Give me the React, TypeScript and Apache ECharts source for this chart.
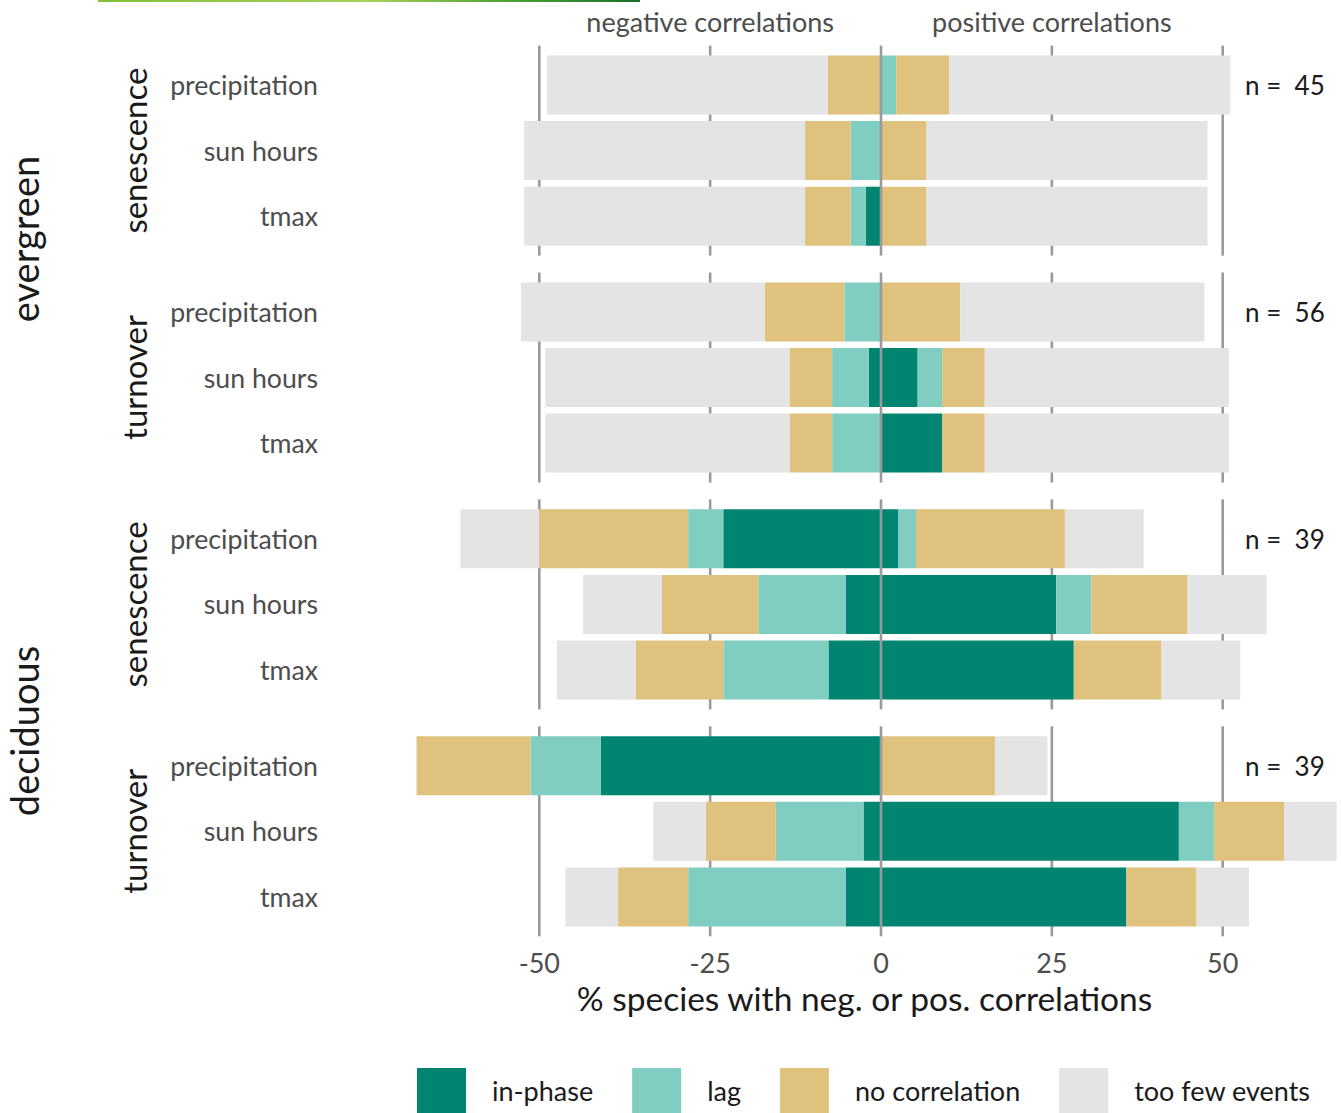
import React, { useEffect, useRef } from 'react';
import * as echarts from 'echarts';

// ---------- data ----------
const CATEGORIES = ['precipitation', 'sun hours', 'tmax'];
const LEGEND_NAMES = ['in-phase', 'lag', 'no correlation', 'too few events'];
const X_TICKS = [-50, -25, 0, 25, 50];
const GROUP_LABELS = ['evergreen', 'deciduous'];
const PHASE_LABELS = ['senescence', 'turnover', 'senescence', 'turnover'];
const N_SPECIES = [45, 56, 39, 39];
const SIDE_LABELS: Record<number, string> = { [-25]: 'negative correlations', 25: 'positive correlations' };

// % species, rows = [precipitation, sun hours, tmax]
// evergreen – senescence
const EVS_INPHASE_NEG = [0, 0, 2.22];
const EVS_LAG_NEG = [0, 4.44, 2.22];
const EVS_NOCORR_NEG = [7.78, 6.67, 6.67];
const EVS_FEW_NEG = [41.11, 41.11, 41.11];
const EVS_INPHASE_POS = [0, 0, 0];
const EVS_LAG_POS = [2.22, 0, 0];
const EVS_NOCORR_POS = [7.78, 6.67, 6.67];
const EVS_FEW_POS = [41.11, 41.11, 41.11];
// evergreen – turnover
const EVT_INPHASE_NEG = [0, 1.79, 0];
const EVT_LAG_NEG = [5.36, 5.36, 7.14];
const EVT_NOCORR_NEG = [11.61, 6.25, 6.25];
const EVT_FEW_NEG = [35.71, 35.71, 35.71];
const EVT_INPHASE_POS = [0, 5.36, 8.93];
const EVT_LAG_POS = [0, 3.57, 0];
const EVT_NOCORR_POS = [11.61, 6.25, 6.25];
const EVT_FEW_POS = [35.71, 35.71, 35.71];
// deciduous – senescence
const DES_INPHASE_NEG = [23.08, 5.13, 7.69];
const DES_LAG_NEG = [5.13, 12.82, 15.38];
const DES_NOCORR_NEG = [21.79, 14.1, 12.82];
const DES_FEW_NEG = [11.54, 11.54, 11.54];
const DES_INPHASE_POS = [2.56, 25.64, 28.21];
const DES_LAG_POS = [2.56, 5.13, 0];
const DES_NOCORR_POS = [21.79, 14.1, 12.82];
const DES_FEW_POS = [11.54, 11.54, 11.54];
// deciduous – turnover (left "too few events" of precipitation falls outside the axis limits and is not drawn)
const DET_INPHASE_NEG = [41.03, 2.56, 5.13];
const DET_LAG_NEG = [10.26, 12.82, 23.08];
const DET_NOCORR_NEG = [16.67, 10.26, 10.26];
const DET_FEW_NEG = [0, 7.69, 7.69];
const DET_INPHASE_POS = [0, 43.59, 35.9];
const DET_LAG_POS = [0, 5.13, 0];
const DET_NOCORR_POS = [16.67, 10.26, 10.26];
const DET_FEW_POS = [7.69, 7.69, 7.69];

const PANELS = [
  { pos: [EVS_INPHASE_POS, EVS_LAG_POS, EVS_NOCORR_POS, EVS_FEW_POS], neg: [EVS_INPHASE_NEG, EVS_LAG_NEG, EVS_NOCORR_NEG, EVS_FEW_NEG] },
  { pos: [EVT_INPHASE_POS, EVT_LAG_POS, EVT_NOCORR_POS, EVT_FEW_POS], neg: [EVT_INPHASE_NEG, EVT_LAG_NEG, EVT_NOCORR_NEG, EVT_FEW_NEG] },
  { pos: [DES_INPHASE_POS, DES_LAG_POS, DES_NOCORR_POS, DES_FEW_POS], neg: [DES_INPHASE_NEG, DES_LAG_NEG, DES_NOCORR_NEG, DES_FEW_NEG] },
  { pos: [DET_INPHASE_POS, DET_LAG_POS, DET_NOCORR_POS, DET_FEW_POS], neg: [DET_INPHASE_NEG, DET_LAG_NEG, DET_NOCORR_NEG, DET_FEW_NEG] },
];

// ---------- style / layout ----------
const COLORS = ['#018571', '#80cdc1', '#dfc27d', '#e4e4e4'];
const FONT = 'Lato';
const PX_PER_UNIT = 6.834;
const ZERO_X = 881;
// bar grids
const BAR_MIN = -68;
const BAR_MAX = 67.3;
const BAR_LEFT = ZERO_X + BAR_MIN * PX_PER_UNIT;
const BAR_WIDTH = (BAR_MAX - BAR_MIN) * PX_PER_UNIT;
// reference-line grids (span -50..50 exactly)
const LINE_MIN = -50;
const LINE_MAX = 50;
const LINE_LEFT = ZERO_X + LINE_MIN * PX_PER_UNIT;
const LINE_WIDTH = (LINE_MAX - LINE_MIN) * PX_PER_UNIT;

const PANEL_STEP = 226.9;
const BAR_TOP = 52.2;
const BAR_H = 196.8;
const LINE_TOP = 45.6;
const LINE_H = 210;

export default function App() {
  const ref = useRef<HTMLDivElement>(null);

  useEffect(() => {
    if (!ref.current) return;
    const chart = echarts.init(ref.current, undefined, { renderer: 'svg' });

    const grid: any[] = [];
    const xAxis: any[] = [];
    const yAxis: any[] = [];
    const series: any[] = [];
    const graphic: any[] = [];

    const textStyle = (extra: any) => ({
      fontFamily: FONT,
      fill: '#1a1a1a',
      align: 'center',
      verticalAlign: 'middle',
      textAlign: 'center',
      textVerticalAlign: 'middle',
      ...extra,
    });

    PANELS.forEach((panel, k) => {
      const lineGrid = 2 * k;
      const barGrid = 2 * k + 1;
      grid.push({ left: LINE_LEFT, width: LINE_WIDTH, top: LINE_TOP + k * PANEL_STEP, height: LINE_H });
      grid.push({ left: BAR_LEFT, width: BAR_WIDTH, top: BAR_TOP + k * PANEL_STEP, height: BAR_H });

      const isTop = k === 0;
      const isBottom = k === PANELS.length - 1;
      xAxis.push({
        gridIndex: lineGrid,
        type: 'value',
        min: LINE_MIN,
        max: LINE_MAX,
        interval: 25,
        position: isTop ? 'top' : 'bottom',
        show: isTop || isBottom,
        axisLine: { show: false },
        axisTick: { show: false },
        splitLine: { show: false },
        axisLabel: {
          show: true,
          margin: isTop ? 11 : 13,
          fontSize: 27,
          fontFamily: FONT,
          color: '#4d4d4d',
          formatter: (v: number) => (isTop ? SIDE_LABELS[v] || '' : String(v)),
        },
      });
      yAxis.push({ gridIndex: lineGrid, type: 'value', min: 0, max: 1, show: false });

      xAxis.push({ gridIndex: barGrid, type: 'value', min: BAR_MIN, max: BAR_MAX, show: false });
      yAxis.push({
        gridIndex: barGrid,
        type: 'category',
        data: CATEGORIES,
        inverse: true,
        axisLine: { show: false },
        axisTick: { show: false },
        splitLine: { show: false },
        axisLabel: { margin: BAR_LEFT - 318, fontSize: 26.7, fontFamily: FONT, color: '#4d4d4d' },
      });

      X_TICKS.forEach((v) => {
        series.push({
          type: 'line',
          xAxisIndex: lineGrid,
          yAxisIndex: lineGrid,
          data: [[v, 0], [v, 1]],
          symbol: 'none',
          silent: true,
          clip: false,
          lineStyle: { color: '#9a9a9a', width: 2.6 },
          z: v === 0 ? 10 : 1,
        });
      });

      const addBars = (arrs: number[][], sign: number) => {
        arrs.forEach((arr, c) => {
          series.push({
            type: 'bar',
            name: LEGEND_NAMES[c],
            xAxisIndex: barGrid,
            yAxisIndex: barGrid,
            stack: 'panel' + k,
            barWidth: '90%',
            itemStyle: { color: COLORS[c] },
            data: arr.map((v) => (v === 0 ? null : sign * v)),
            z: 2,
          });
        });
      };
      addBars(panel.pos, 1);
      addBars(panel.neg, -1);

      graphic.push({
        type: 'text',
        x: 134,
        y: BAR_TOP + BAR_H / 2 + k * PANEL_STEP,
        rotation: Math.PI / 2,
        style: textStyle({ text: PHASE_LABELS[k], fontSize: 33 }),
      });
      graphic.push({
        type: 'text',
        x: 1245,
        y: BAR_TOP + BAR_H / 6 + k * PANEL_STEP,
        style: textStyle({
          text: 'n =  ' + N_SPECIES[k],
          fontSize: 26,
          align: 'left',
          textAlign: 'left',
        }),
      });
    });

    const groupY = [239, 731];
    GROUP_LABELS.forEach((g, i) => {
      graphic.push({
        type: 'text',
        x: 24,
        y: groupY[i],
        rotation: Math.PI / 2,
        style: textStyle({ text: g, fontSize: 38 }),
      });
    });

    graphic.push({
      type: 'text',
      x: 864.5,
      y: 998,
      style: textStyle({ text: '% species with neg. or pos. correlations', fontSize: 33.5 }),
    });

    graphic.push({
      type: 'rect',
      shape: { x: 98, y: 0, width: 542, height: 2 },
      style: {
        fill: new echarts.graphic.LinearGradient(0, 0, 1, 0, [
          { offset: 0, color: '#7fbf3a' },
          { offset: 0.5, color: '#a7d05a' },
          { offset: 0.8, color: '#3f9a2f' },
          { offset: 1, color: '#1e6e2b' },
        ]),
      },
    });

    chart.setOption({
      animation: false,
      backgroundColor: '#ffffff',
      grid,
      xAxis,
      yAxis,
      series,
      graphic,
      legend: {
        data: LEGEND_NAMES,
        left: 417,
        top: 1068,
        padding: 0,
        itemWidth: 49,
        itemHeight: 45,
        itemGap: 39,
        icon: 'rect',
        selectedMode: false,
        textStyle: { fontSize: 27, fontFamily: FONT, color: '#1a1a1a', padding: [0, 0, 0, 21] },
      },
    });

    return () => chart.dispose();
  }, []);

  return (
    <div
      ref={ref}
      style={{ position: 'absolute', left: 0, top: 0, width: 1341, height: 1113, background: '#fff' }}
    />
  );
}
